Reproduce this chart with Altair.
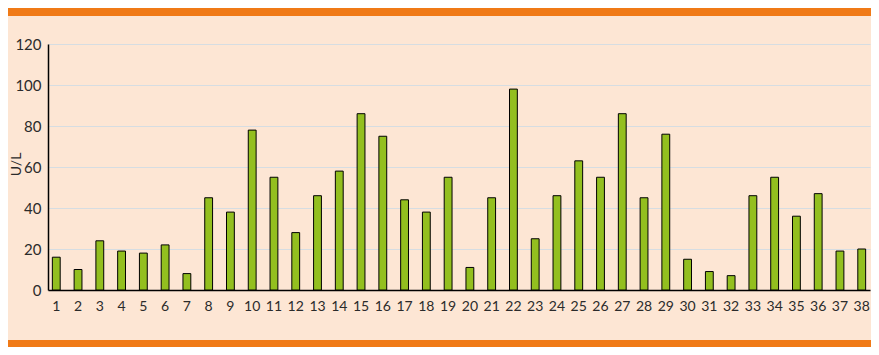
import altair as alt
import pandas as pd

samples = [str(i) for i in range(1, 39)]
values = [16, 10, 24, 19, 18, 22, 8, 45, 38, 78, 55, 28, 46, 58, 86, 75, 44, 38, 55, 11,
          45, 98, 25, 46, 63, 55, 86, 45, 76, 15, 9, 7, 46, 55, 36, 47, 19, 20]
y_ticks = [0, 20, 40, 60, 80, 100, 120]
y_title = "U/L"

W = 822
H = 246
PAD = {"left": 40, "top": 36, "right": 1, "bottom": 57}

df = pd.DataFrame({"sample": samples, "value": values})
band_df = pd.DataFrame({"b": [0]})

FONT = "Lato"
TXT = "#2b2b2b"

bars = alt.Chart(df).mark_bar(color="#93bf1f", stroke="#000000", strokeWidth=1).encode(
    x=alt.X("sample:N", sort=samples,
            scale=alt.Scale(paddingInner=0.64, paddingOuter=0.2),
            axis=alt.Axis(title=None, labelAngle=0, ticks=False, labelPadding=9,
                          labelFont=FONT, labelFontSize=14, labelColor=TXT,
                          domainColor="#000000", domainWidth=1.5, grid=False)),
    y=alt.Y("value:Q", scale=alt.Scale(domain=[0, 120], nice=False),
            axis=alt.Axis(values=y_ticks, title=y_title, ticks=False, labelPadding=7,
                          labelFont=FONT, labelFontSize=15, labelColor=TXT,
                          titleFont=FONT, titleFontSize=14, titleFontWeight="normal",
                          titleColor=TXT, titleAngle=-90, titleX=-38.5, titleY=120,
                          titleBaseline="top", titleAlign="center",
                          domainColor="#000000", domainWidth=1.5,
                          grid=True, gridColor="#d6dde2", gridWidth=1)),
)

top_band = alt.Chart(band_df).mark_rect(color="#f07a17").encode(
    x=alt.value(-40), x2=alt.value(W + 1), y=alt.value(-36), y2=alt.value(-28)
)
bottom_band = alt.Chart(band_df).mark_rect(color="#f07a17").encode(
    x=alt.value(-40), x2=alt.value(W + 1), y=alt.value(H + 50), y2=alt.value(H + 57)
)

chart = alt.layer(top_band, bottom_band, bars).properties(
    width=W, height=H, padding=PAD,
    autosize=alt.AutoSizeParams(type="none"),
    background="#fde6d4",
).configure_view(stroke=None)

chart.save("out.html", embed_options={"renderer": "svg", "actions": False})
